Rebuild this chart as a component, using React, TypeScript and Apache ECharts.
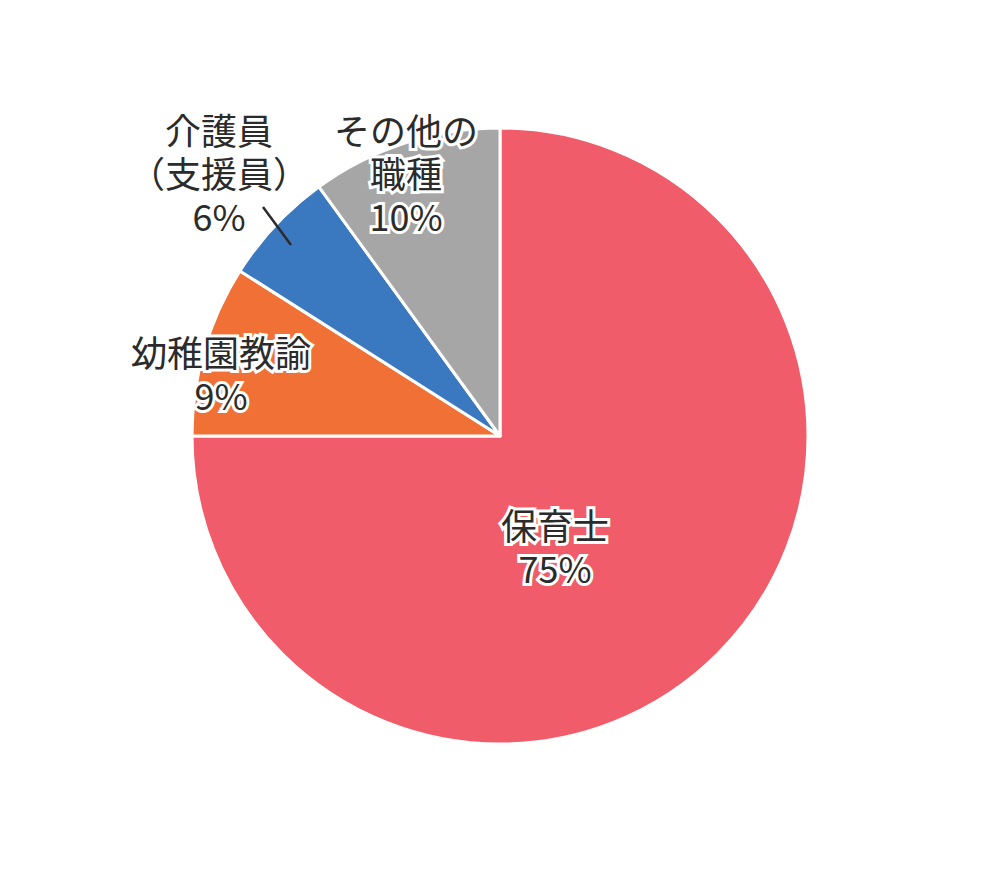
import React, { useEffect, useRef } from "react";
import * as echarts from "echarts";

const categories = ["保育士", "幼稚園教諭", "介護員\n（支援員）", "その他の\n職種"];
const values = [75, 9, 6, 10];
const colors = ["#F05C69", "#F07036", "#3A78BF", "#A6A6A6"];
const labelPos: [number, number][] = [
  [555, 545],
  [221, 372],
  [219, 172],
  [406, 172],
];

export default function App() {
  const ref = useRef<HTMLDivElement>(null);
  useEffect(() => {
    if (!ref.current) return;
    const chart = echarts.init(ref.current, undefined, { renderer: "svg" });
    chart.setOption({
      animation: false,
      backgroundColor: "#ffffff",
      graphic: [
        {
          type: "line",
          shape: { x1: 263, y1: 207, x2: 291, y2: 245 },
          style: { stroke: "#2b2b2b", lineWidth: 2.5 },
          z: 100,
        },
      ],
      series: [
        {
          type: "pie",
          center: [500, 436],
          radius: 308,
          startAngle: 90,
          clockwise: true,
          itemStyle: { borderColor: "#ffffff", borderWidth: 3 },
          label: {
            show: true,
            position: "inside",
            formatter: (p: any) => `${p.name}\n${p.value}%`,
            fontFamily: "Noto Sans CJK JP",
            fontSize: 36,
            lineHeight: 43,
            color: "#2b2b2b",
            textBorderColor: "#ffffff",
            textBorderWidth: 6,
            align: "center",
          },
          labelLine: { show: false },
          labelLayout: (params: any) => {
            const p = labelPos[params.dataIndex];
            return { x: p[0], y: p[1], align: "center", verticalAlign: "middle" };
          },
          data: categories.map((c, i) => ({
            name: c,
            value: values[i],
            itemStyle: { color: colors[i] },
          })),
        },
      ],
    });
    return () => chart.dispose();
  }, []);
  return (
    <div
      ref={ref}
      style={{ position: "absolute", left: 0, top: 0, width: 1000, height: 873 }}
    />
  );
}
